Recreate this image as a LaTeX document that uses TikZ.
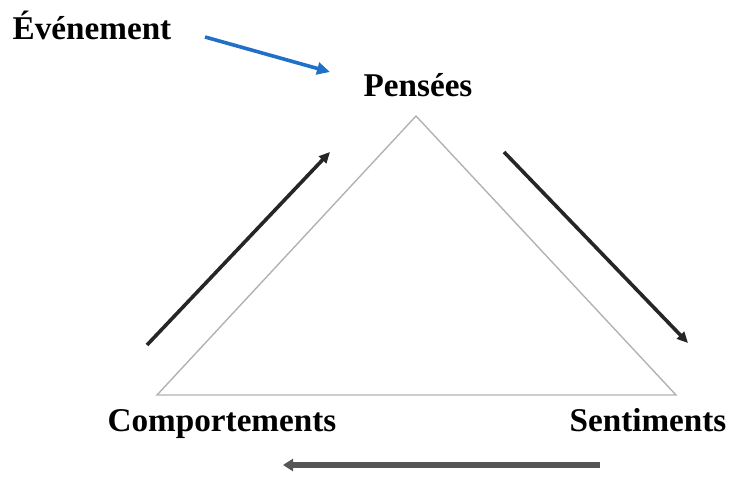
\documentclass[tikz,border=0pt]{standalone}
\usepackage{fontspec}
\setmainfont{Liberation Serif}
\usepackage{xcolor}
\usetikzlibrary{arrows.meta, positioning}
\definecolor{evblue}{RGB}{30,112,200}
\definecolor{cyclegray}{RGB}{85,85,85}

\begin{document}
\begin{tikzpicture}[x=0.5pt, y=-0.5pt,
        label/.style={font=\fontsize{16.6}{20}\bfseries\selectfont, inner sep=0pt, anchor=base},
        cycle/.style={-{Triangle[length=5.5pt,width=5pt]}, line width=1.8pt, black!85},
    ]
        \useasboundingbox (0,0) rectangle (732,476);

        % triangle
        \coordinate (top) at (416,116);
        \coordinate (left) at (157,395);
        \coordinate (right) at (676,395);
        \draw[line width=0.7pt, black!30] (top) -- (right) -- (left) -- cycle;

        \node[label] (pens) at (418,97) {Pensées};
        \node[label] (event) at (92,40) {Événement};
        \node[label] (comp) at (222,431) {Comportements};
        \node[label] (sent) at (648,431) {Sentiments};

        % arrows
        \coordinate (ev1) at (205,37);
        \coordinate (ev2) at (330,72);
        \draw[-{Triangle[length=6.5pt,width=6pt]}, line width=1.8pt, evblue] (ev1) -- (ev2);

        \coordinate (cp1) at (147,345);
        \coordinate (cp2) at (330,152);
        \draw[cycle] (cp1) -- (cp2);

        \coordinate (ps1) at (504,152);
        \coordinate (ps2) at (688,343);
        \draw[cycle] (ps1) -- (ps2);

        \coordinate (st1) at (600,465);
        \coordinate (st2) at (283,465);
        \draw[-{Triangle[length=5pt,width=6pt]}, line width=2.8pt, cyclegray] (st1) -- (st2);
    \end{tikzpicture}
\end{document}
